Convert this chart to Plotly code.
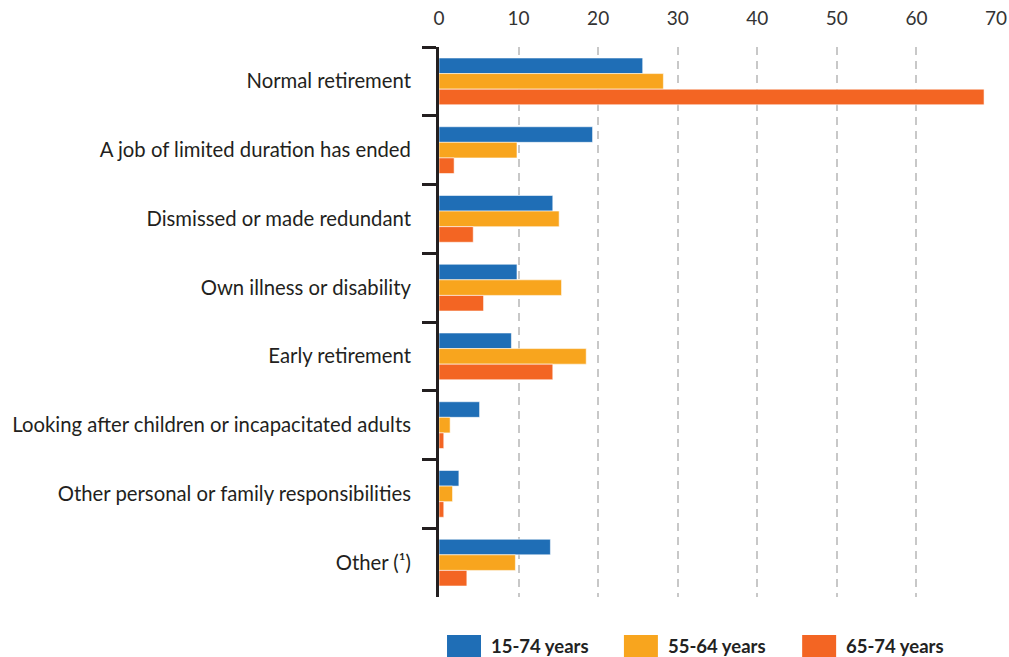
import plotly.graph_objects as go

categories = [
    "Normal retirement",
    "A job of limited duration has ended",
    "Dismissed or made redundant",
    "Own illness or disability",
    "Early retirement",
    "Looking after children or incapacitated adults",
    "Other personal or family responsibilities",
    "Other (¹)",
]
series_names = ["15-74 years", "55-64 years", "65-74 years"]
values_15_74 = [25.6, 19.3, 14.3, 9.8, 9.1, 5.1, 2.5, 14.0]
values_55_64 = [28.2, 9.8, 15.1, 15.4, 18.5, 1.4, 1.7, 9.6]
values_65_74 = [68.5, 1.9, 4.3, 5.6, 14.3, 0.6, 0.6, 3.5]
x_ticks = [0, 10, 20, 30, 40, 50, 60, 70]
colors = ["#1F6EB6", "#F8A51E", "#F36523"]

FONT = "Lato"
fig = go.Figure()
for name, vals, col in zip(series_names, [values_15_74, values_55_64, values_65_74], colors):
    fig.add_trace(go.Bar(
        y=categories, x=vals, name=name, orientation="h",
        marker=dict(color=col, line=dict(color="rgba(255,255,255,0.55)", width=1)),
        showlegend=False,
    ))

# custom legend (swatches + labels) in paper coordinates
leg_x = [0.0144, 0.332, 0.652]
for name, col, lx in zip(series_names, colors, leg_x):
    fig.add_shape(type="rect", xref="paper", yref="paper",
                  x0=lx, x1=lx + 0.061, y0=-0.109, y1=-0.069,
                  fillcolor=col, line=dict(width=0))
    fig.add_annotation(xref="paper", yref="paper", x=lx + 0.076, y=-0.089,
                       text="<b>" + name + "</b>", showarrow=False,
                       xanchor="left", yanchor="middle",
                       font=dict(family=FONT, size=18.5, color="#222222"))

fig.update_layout(
    width=1009, height=657,
    barmode="group", bargap=0.32, bargroupgap=0,
    plot_bgcolor="white", paper_bgcolor="white",
    margin=dict(l=439, r=13, t=47, b=60),
    font=dict(family=FONT, size=20.3, color="#222222"),
    xaxis=dict(
        side="top", range=[0, 70], tickvals=x_ticks,
        showgrid=True, gridcolor="#C8C8C8", gridwidth=1.5, griddash="8px,6px",
        zeroline=False, showline=False, ticks="",
        tickfont=dict(family=FONT, size=19, color="#333333"),
        ticklabelstandoff=17, automargin=False,
    ),
    yaxis=dict(
        categoryorder="array", categoryarray=categories, autorange="reversed",
        showline=True, linecolor="#231F20", linewidth=3,
        ticks="outside", tickson="boundaries", ticklen=14, tickwidth=3, tickcolor="#231F20",
        showgrid=False, zeroline=False,
        tickfont=dict(family=FONT, size=20.3, color="#231F20"),
        ticklabelstandoff=21, automargin=False,
    ),
)

fig.write_html(
    "out.html",
    config={"displayModeBar": False},
    post_script="document.body.style.margin='0';document.body.style.overflow='hidden';",
)
